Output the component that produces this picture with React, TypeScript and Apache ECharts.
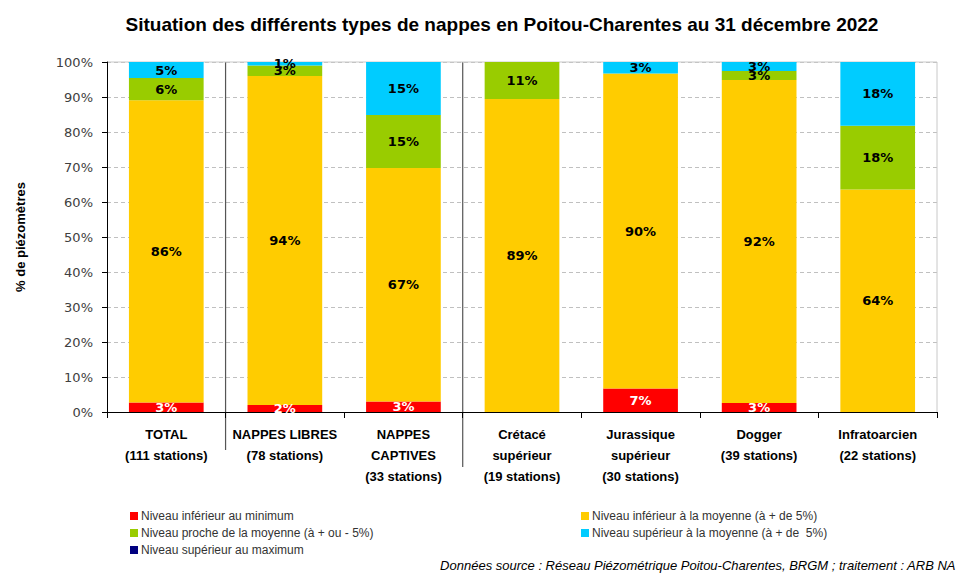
import React, { useEffect, useRef } from "react";
import * as echarts from "echarts";

const categories = [
  "TOTAL\n(111 stations)",
  "NAPPES LIBRES\n(78 stations)",
  "NAPPES\nCAPTIVES\n(33 stations)",
  "Crétacé\nsupérieur\n(19 stations)",
  "Jurassique\nsupérieur\n(30 stations)",
  "Dogger\n(39 stations)",
  "Infratoarcien\n(22 stations)",
];
const belowMin = [2.7, 2.0, 3.0, 0, 6.7, 2.56, 0];
const belowMean = [86.4, 94.0, 66.7, 89.4, 90.0, 92.31, 63.6];
const nearMean = [6.3, 3.0, 15.15, 10.6, 0, 2.56, 18.2];
const aboveMean = [4.6, 1.0, 15.15, 0, 3.3, 2.56, 18.2];
const aboveMax = [0, 0, 0, 0, 0, 0, 0];
const yTicks = [0, 10, 20, 30, 40, 50, 60, 70, 80, 90, 100];

const NAMES = {
  min: "Niveau inférieur au minimum",
  low: "Niveau inférieur à la moyenne (à + de 5%)",
  near: "Niveau proche de la moyenne (à + ou - 5%)",
  high: "Niveau supérieur à la moyenne (à + de  5%)",
  max: "Niveau supérieur au maximum",
};

const FONT = "'Liberation Sans', sans-serif";

export default function App() {
  const ref = useRef<HTMLDivElement>(null);
  useEffect(() => {
    if (!ref.current) return;
    const chart = echarts.init(ref.current, null, { renderer: "svg" });
    const lbl = (color: string) => ({
      show: true,
      position: "inside" as const,
      color,
      fontWeight: "bold" as const,
      fontSize: 13,
      fontFamily: "'DejaVu Sans', sans-serif",
      formatter: (p: any) => (p.value > 0 ? Math.round(p.value) + "%" : ""),
    });
    const mk = (name: string, data: number[], color: string, lc: string) => ({
      name,
      type: "bar" as const,
      stack: "s",
      data,
      barCategoryGap: "37%",
      itemStyle: { color },
      label: lbl(lc),
    });
    const legendCommon = {
      orient: "vertical" as const,
      top: 505,
      itemWidth: 8,
      itemHeight: 8,
      itemGap: 5,
      icon: "rect",
      textStyle: { fontSize: 12, color: "#333", fontFamily: FONT, padding: [0, 0, 0, -2] },
    };
    chart.setOption({
      animation: false,
      title: {
        text: "Situation des différents types de nappes en Poitou-Charentes au 31 décembre 2022",
        left: 497,
        textAlign: "center",
        top: 10,
        textStyle: { fontSize: 19, fontWeight: "bold", color: "#000", fontFamily: FONT },
      },
      grid: { left: 107, right: 21, top: 62, bottom: 161 },
      legend: [
        { ...legendCommon, data: [NAMES.min, NAMES.near, NAMES.max], left: 125 },
        { ...legendCommon, data: [NAMES.low, NAMES.high], left: 576 },
      ],
      xAxis: {
        type: "category",
        data: categories,
        axisLine: { lineStyle: { color: "#000" } },
        axisTick: { show: true, length: 6, lineStyle: { color: "#000" } },
        axisLabel: {
          interval: 0,
          color: "#000",
          fontSize: 13,
          fontWeight: "bold",
          lineHeight: 21,
          margin: 12,
          fontFamily: FONT,
        },
      },
      yAxis: {
        type: "value",
        min: yTicks[0],
        max: yTicks[yTicks.length - 1],
        interval: 10,
        name: "% de piézomètres",
        nameLocation: "middle",
        nameGap: 80,
        nameRotate: 90,
        nameTextStyle: { fontWeight: "bold", fontSize: 13, color: "#000", fontFamily: FONT },
        axisLine: { show: true, lineStyle: { color: "#000" } },
        axisTick: { show: true, length: 5, lineStyle: { color: "#000" } },
        axisLabel: {
          formatter: (v: number) => v + "%",
          color: "#404040",
          fontSize: 13,
          fontFamily: "'DejaVu Sans', sans-serif",
          margin: 14,
        },
        splitLine: { lineStyle: { color: "#c0c0c0", type: [4, 3] } },
      },
      series: [
        mk(NAMES.min, belowMin, "#ff0000", "#fff"),
        mk(NAMES.low, belowMean, "#ffcc00", "#000"),
        mk(NAMES.near, nearMean, "#99cc00", "#000"),
        mk(NAMES.high, aboveMean, "#00ccff", "#000"),
        mk(NAMES.max, aboveMax, "#000080", "#000"),
      ],
    });

    // separators between category groups and plot border
    const p0 = chart.convertToPixel({ xAxisIndex: 0 }, 0) as number;
    const p1 = chart.convertToPixel({ xAxisIndex: 0 }, 1) as number;
    const band = p1 - p0;
    const top = chart.convertToPixel({ yAxisIndex: 0 }, 100) as number;
    const bottom = chart.convertToPixel({ yAxisIndex: 0 }, 0) as number;
    const right = (chart.convertToPixel({ xAxisIndex: 0 }, 6) as number) + band / 2;
    const sep1 = p0 + band / 2;
    const sep2 = p0 + band * 2.5;
    chart.setOption({
      graphic: [
        { type: "line", shape: { x1: sep1, y1: top, x2: sep1, y2: bottom + 38 }, style: { stroke: "#555", lineWidth: 1.2 } },
        { type: "line", shape: { x1: sep2, y1: top, x2: sep2, y2: bottom + 55 }, style: { stroke: "#555", lineWidth: 1.2 } },
        { type: "line", shape: { x1: right, y1: top, x2: right, y2: bottom }, style: { stroke: "#c8c8c8", lineWidth: 1 } },
        { type: "line", shape: { x1: p0 - band / 2, y1: top, x2: right, y2: top }, style: { stroke: "#c8c8c8", lineWidth: 1 } },
        {
          type: "text",
          right: 2,
          bottom: 1,
          style: {
            text: "Données source : Réseau Piézométrique Poitou-Charentes, BRGM ; traitement : ARB NA",
            fontSize: 13,
            fontStyle: "italic",
            fill: "#000",
            fontFamily: FONT,
          },
        },
      ],
    });
    return () => chart.dispose();
  }, []);
  return <div ref={ref} style={{ width: 958, height: 573, position: "absolute", left: 0, top: 0, background: "#fff" }} />;
}
